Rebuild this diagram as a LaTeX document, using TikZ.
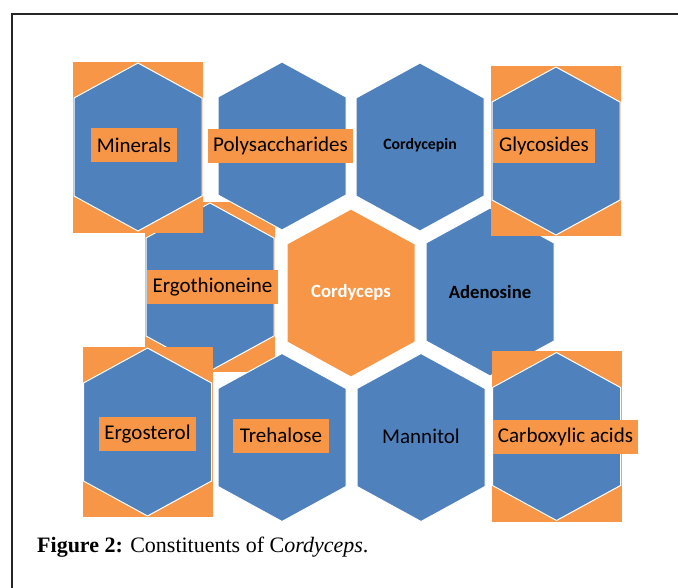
\documentclass[tikz,border=0pt]{standalone}
\usepackage{fontspec}
\setmainfont{Liberation Serif}
\newfontfamily\calibri{Carlito}
\definecolor{hexblue}{HTML}{4F81BD}
\definecolor{hexorange}{HTML}{F79646}

\begin{document}
\begin{tikzpicture}
[x=1pt, y=-1pt,
every node/.style = {inner sep=0pt, text=black,
	font=\calibri\fontsize{21}{25}\selectfont},
cornerbox/.style = {fill=hexorange, minimum width=130pt, minimum height=170pt},
tag/.style = {fill=hexorange, minimum height=34pt},
boldtext/.style = {font=\calibri\bfseries\fontsize{18.7}{22}\selectfont},
hexcell/.pic = {\filldraw[fill=#1, draw=white, line width=1pt]
	(0,-84) -- (64,-49) -- (64,49) -- (0,84) -- (-64,49) -- (-64,-49) -- cycle;}]

  \useasboundingbox (0,0) rectangle (678,588);
  \draw[line width=1.4pt, black!85] (12,590) -- (12,14) -- (680,14);

  \node[cornerbox] (ergothioneine box) at (210,287) {};
  \pic at (210,287) {hexcell=hexblue};
  \node[tag, minimum width=131pt] (ergothioneine) at (212.5,287.5) {Ergothioneine};
  \pic at (351,293) {hexcell=hexorange};
  \node[boldtext, text=white] (cordyceps) at (351,292) {Cordyceps};
  \pic at (490,292) {hexcell=hexblue};
  \node[boldtext] (adenosine) at (490,292) {Adenosine};

  \node[cornerbox, minimum height=171pt] (minerals box) at (138,147.5) {};
  \pic at (138,147) {hexcell=hexblue};
  \node[tag, minimum width=86pt] (minerals) at (134,145.5) {Minerals};
  \pic at (282,146) {hexcell=hexblue};
  \node[tag, minimum width=145pt] (polysaccharides) at (280.5,146) {Polysaccharides};
  \pic at (420,147) {hexcell=hexblue};
  \node[font=\calibri\bfseries\fontsize{15.8}{19}\selectfont] (cordycepin) at (420,145) {Cordycepin};
  \node[cornerbox] (glycosides box) at (556,151) {};
  \pic at (556,151) {hexcell=hexblue};
  \node[tag, minimum width=102pt] (glycosides) at (544,146) {Glycosides};

  \node[cornerbox] (ergosterol box) at (147.5,432) {};
  \pic at (147.5,432) {hexcell=hexblue};
  \node[tag, minimum width=97pt] (ergosterol) at (147.5,434) {Ergosterol};
  \pic at (282,437.5) {hexcell=hexblue};
  \node[tag, minimum width=96pt] (trehalose) at (281,435.5) {Trehalose};
  \pic at (421,437.5) {hexcell=hexblue};
  \node (mannitol) at (421,436) {Mannitol};
  \node[cornerbox] (carboxylic box) at (556.5,436.5) {};
  \pic at (556.5,436.5) {hexcell=hexblue};
  \node[tag, minimum width=145pt] (carboxylic) at (565.5,436.5) {Carboxylic acids};

  \node[anchor=west, font=\rmfamily\fontsize{22}{26}\selectfont] (caption) at (37,547)
  	{\textbf{Figure 2:} Constituents of C\textit{ordyceps}.};
\end{tikzpicture}
\end{document}
